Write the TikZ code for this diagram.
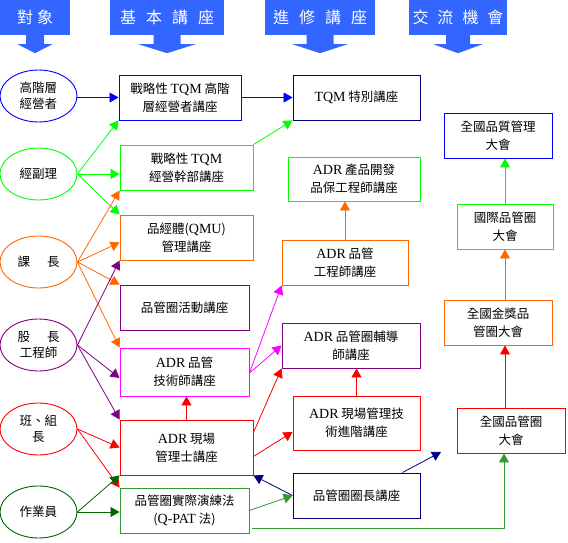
\documentclass[tikz,border=0pt]{standalone}
\usepackage{fontspec}
\setmainfont{Noto Sans CJK TC}
\newfontfamily\lat[Scale=1.12]{Liberation Serif}
\usetikzlibrary{calc,arrows.meta,shapes.geometric}

\definecolor{hdblue}{HTML}{3366FF}
\definecolor{cblue}{HTML}{0000FF}
\definecolor{cnavy}{HTML}{000080}
\definecolor{cgreen}{HTML}{00FF00}
\definecolor{corange}{HTML}{FF6600}
\definecolor{cpurple}{HTML}{800080}
\definecolor{cmagenta}{HTML}{FF00FF}
\definecolor{cred}{HTML}{FF0000}
\definecolor{cdkgreen}{HTML}{006600}
\definecolor{cmidgreen}{HTML}{339933}

\tikzset{
  hdbox/.style={fill=hdblue, text=white, inner sep=0pt, minimum height=35,
    font=\fontsize{16}{18}\selectfont},
  who/.style={ellipse, draw=#1, line width=0.9pt, minimum width=77, minimum height=52,
    inner sep=0pt, align=center, font=\fontsize{12.5}{16}\selectfont},
  course/.style={draw=#1, line width=0.9pt, align=center, inner sep=0pt,
    font=\fontsize{12.5}{18}\selectfont},
  conn/.style={draw=#1, line width=0.8pt, -{Triangle[length=9pt,width=10pt]}}
}

\begin{document}
\begin{tikzpicture}[x=1pt,y=-1pt]
  \useasboundingbox (0,0) rectangle (568,543);

  % column headers
  \node[hdbox, minimum width=70] (hd1) at (35,17.5) {對\hspace{4pt}象};
  \node[hdbox, minimum width=114] (hd2) at (167,17.5) {基\hspace{10pt}本\hspace{10pt}講\hspace{10pt}座};
  \node[hdbox, minimum width=110] (hd3) at (320,17.5) {進\hspace{10pt}修\hspace{10pt}講\hspace{10pt}座};
  \node[hdbox, minimum width=98] (hd4) at (458,17.5) {交\hspace{9pt}流\hspace{9pt}機\hspace{9pt}會};
  \foreach \n/\s/\h in {hd1/9/17.5, hd2/13.5/28.5, hd3/13.5/27.5, hd4/12/24.5}
    \fill[hdblue] ($(\n.south)+(-\s,0)$) -- ($(\n.south)+(-\s,9)$) -- ($(\n.south)+(-\h,9)$)
      -- ($(\n.south)+(0,18)$) -- ($(\n.south)+(\h,9)$) -- ($(\n.south)+(\s,9)$)
      -- ($(\n.south)+(\s,0)$) -- cycle;

  % target groups
  \node[who=cblue] (top) at (38.5,96) {高階層\\經營者};
  \node[who=cgreen] (mgr) at (38.5,174) {經副理};
  \node[who=corange] (sect) at (38.5,262) {課\hspace{17pt}長};
  \node[who=cpurple] (eng) at (38.5,345) {股\hspace{17pt}長\\工程師};
  \node[who=cred] (lead) at (38.5,429) {班、組\\長};
  \node[who=cdkgreen] (staff) at (38.5,512) {作業員};

  % basic courses
  \node[course=cblue, minimum width=122, minimum height=45] (strat) at (180,97.5)
    {戰略性 {\lat TQM} 高階\\層經營者講座};
  \node[course=cgreen, minimum width=133, minimum height=45] (cadre) at (186.5,167.5)
    {戰略性 {\lat TQM}\\經營幹部講座};
  \node[course=corange, minimum width=133, minimum height=45] (qmu) at (186.5,237.5)
    {品經體({\lat QMU})\\管理講座};
  \node[course=cpurple, minimum width=129, minimum height=45] (qcc) at (184.5,307.5)
    {品管圈活動講座};
  \node[course=cmagenta, minimum width=129, minimum height=48] (tech) at (184.5,372)
    {{\lat ADR} 品管\\技術師講座};
  \node[course=cred, minimum width=133, minimum height=55] (site) at (186.5,447.5)
    {{\lat ADR} 現場\\管理士講座};
  \node[course=cmidgreen, minimum width=129, minimum height=45] (qpat) at (184.5,510.5)
    {品管圈實際演練法\\({\lat Q-PAT} 法)};

  % advanced courses
  \node[course=cnavy, minimum width=127, minimum height=45] (tqm) at (356.5,97.5)
    {{\lat TQM} 特別講座};
  \node[course=cgreen, minimum width=132, minimum height=44] (prod) at (354,179)
    {{\lat ADR} 產品開發\\品保工程師講座};
  \node[course=corange, minimum width=126, minimum height=45] (qeng) at (345,262.5)
    {{\lat ADR} 品管\\工程師講座};
  \node[course=cpurple, minimum width=138, minimum height=45] (coach) at (351,345.5)
    {{\lat ADR} 品管圈輔導\\師講座};
  \node[course=cred, minimum width=127, minimum height=54] (adv) at (356.5,423)
    {{\lat ADR} 現場管理技\\術進階講座};
  \node[course=cnavy, minimum width=127, minimum height=45] (chief) at (356.5,495.5)
    {品管圈圈長講座};

  % exchange meetings
  \node[course=cblue, minimum width=108, minimum height=45] (natq) at (498,135.5)
    {全國品質管理\\大會};
  \node[course=cgreen, minimum width=96, minimum height=45] (intl) at (505,226.5)
    {國際品管圈\\大會};
  \node[course=corange, minimum width=108, minimum height=45] (gold) at (498,322.5)
    {全國金獎品\\管圈大會};
  \node[course=cred, minimum width=108, minimum height=45] (natc) at (511,430.5)
    {全國品管圈\\大會};
  \coordinate (chiefend) at (441,452);

  % connectors from target groups
  \draw[conn=cblue] (top.east |- strat.west) -- (strat.west);
  \draw[conn=cgreen] (mgr.east) -- (strat.south west);
  \draw[conn=cgreen] (mgr.east) -- (mgr.east -| cadre.west);
  \draw[conn=cgreen] (mgr.east) -- (qmu.north west);
  \draw[conn=corange] (sect.east) -- (cadre.south west);
  \draw[conn=corange] (sect.east) -- ($(qmu.west)+(0,5)$);
  \draw[conn=corange] (sect.east) -- (qcc.north west);
  \draw[conn=corange] (sect.east) -- (tech.north west);
  \draw[conn=cpurple] (eng.east) -- (qmu.south west);
  \draw[conn=cpurple] (eng.east) -- ($(tech.west)+(0,6)$);
  \draw[conn=cpurple] (eng.east) -- (site.north west);
  \draw[conn=cred] (lead.east) -- (site.west);
  \draw[conn=cred] (lead.east) -- (qpat.north west);
  \draw[conn=cdkgreen] (staff.east) -- (site.south west);
  \draw[conn=cdkgreen] (staff.east) -- (staff.east -| qpat.west);

  % connectors between courses
  \draw[conn=cblue] (strat.east) -- (tqm.west);
  \draw[conn=cgreen] (cadre.north east) -- (tqm.south west);
  \draw[conn=cmagenta] ($(tech.east)+(0,1)$) -- (qeng.south west);
  \draw[conn=cmagenta] ($(tech.east)+(0,1)$) -- (coach.west);
  \draw[conn=cred] (site.north) -- (site.north |- tech.south);
  \draw[conn=cred] ($(site.east)+(0,-15)$) -- (coach.south west);
  \draw[conn=cred] ($(site.east)+(0,9)$) -- ($(adv.west)+(0,9)$);
  \draw[conn=cred] (adv.north) -- (adv.north |- coach.south);
  \draw[conn=corange] (qeng.north) -- (qeng.north |- prod.south);
  \draw[conn=cnavy] (chief.west) -- (site.south east);
  \draw[conn=cmidgreen] (qpat.east) -- (chief.west);
  \draw[conn=cnavy] ($(chief.north east)+(-18,0)$) -- (chiefend);
  \draw[conn=cmidgreen] ($(qpat.east)+(3,17.5)$) -| ($(intl.south |- natc.south)+(-1,0)$);

  % connectors between meetings
  \draw[conn=cred] (intl.south |- natc.north) -- (intl.south |- gold.south);
  \draw[conn=corange] (intl.south |- gold.north) -- (intl.south);
  \draw[conn=cgreen] (intl.north) -- (intl.north |- natq.south);
\end{tikzpicture}
\end{document}
